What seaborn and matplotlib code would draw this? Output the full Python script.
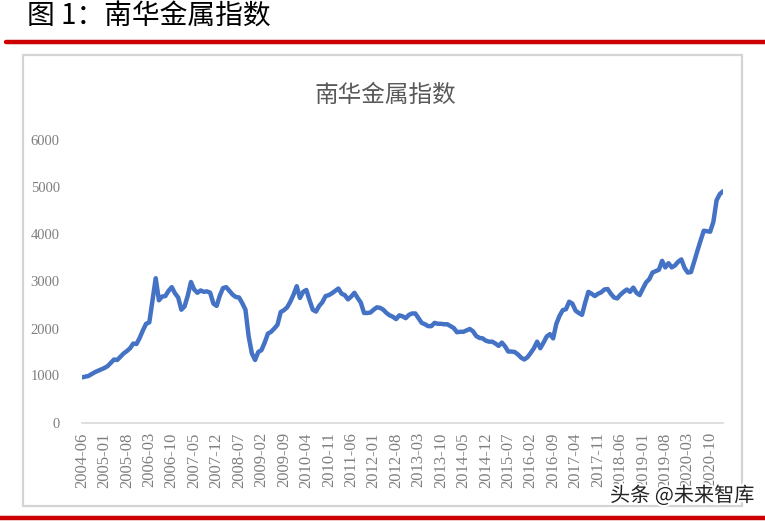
import matplotlib
matplotlib.use("Agg")
import matplotlib.pyplot as plt
import matplotlib.patheffects as pe
from matplotlib.lines import Line2D
from matplotlib.patches import Rectangle
import seaborn as sns
import pandas as pd

# ---- data -------------------------------------------------------------
start_month = "2004-06"
end_month = "2021-02"
index_values = [
    960, 975, 990, 1030, 1070, 1100, 1130, 1160, 1200, 1270,
    1340, 1330, 1400, 1470, 1520, 1580, 1680, 1670, 1800, 1960,
    2100, 2130, 2600, 3070, 2600, 2680, 2690, 2800, 2880, 2750,
    2660, 2400, 2470, 2700, 2990, 2830, 2760, 2810, 2780, 2790,
    2760, 2530, 2480, 2700, 2860, 2880, 2800, 2720, 2670, 2660,
    2540, 2400, 1830, 1470, 1330, 1500, 1540, 1700, 1890, 1930,
    2000, 2080, 2350, 2390, 2450, 2570, 2720, 2900, 2650, 2780,
    2820, 2600, 2400, 2360, 2480, 2560, 2690, 2710, 2750, 2800,
    2850, 2740, 2710, 2620, 2680, 2760, 2650, 2550, 2330, 2330,
    2340, 2400, 2450, 2440, 2400, 2330, 2280, 2250, 2200, 2280,
    2260, 2220, 2290, 2320, 2320, 2220, 2120, 2090, 2050, 2050,
    2120, 2100, 2100, 2090, 2090, 2050, 2010, 1920, 1930, 1930,
    1960, 1990, 1940, 1840, 1800, 1790, 1740, 1720, 1720, 1680,
    1630, 1700, 1620, 1510, 1510, 1500, 1450, 1380, 1340, 1390,
    1480, 1580, 1720, 1580, 1700, 1830, 1880, 1790, 2100, 2270,
    2390, 2410, 2570, 2530, 2380, 2330, 2290, 2550, 2780, 2740,
    2690, 2740, 2770, 2830, 2840, 2740, 2660, 2640, 2720, 2780,
    2830, 2780, 2870, 2760, 2710, 2850, 2980, 3050, 3190, 3220,
    3250, 3440, 3300, 3390, 3300, 3340, 3420, 3470, 3290, 3190,
    3200, 3420, 3650, 3870, 4080, 4070, 4060, 4270, 4730, 4860,
    4920,
]
y_ticks = [0, 1000, 2000, 3000, 4000, 5000, 6000]
tick_every = 7
header_text = "图 1：南华金属指数"
chart_title = "南华金属指数"
watermark = "头条 @未来智库"

months = pd.period_range(start_month, end_month, freq="M").strftime("%Y-%m").tolist()
df = pd.DataFrame({"idx": range(len(months)), "month": months, "value": index_values})

# ---- figure -------------------------------------------------------------
sns.set_theme(style="white")
plt.rcParams["font.family"] = ["Noto Sans CJK SC", "DejaVu Sans"]

W, H = 765, 521
fig = plt.figure(figsize=(W / 100, H / 100), dpi=100)
fig.patch.set_facecolor("white")

# header text and red rules
fig.text(27 / W, 1 - 17 / H, header_text, fontsize=20, fontweight="normal",
         color="black", ha="left", va="center")
fig.add_artist(Line2D([6 / W, 1], [1 - 42 / H, 1 - 42 / H], color="#CC0000",
                      linewidth=3.2, transform=fig.transFigure))
fig.add_artist(Line2D([0, 1], [1 - 518 / H, 1 - 518 / H], color="#CC0000",
                      linewidth=3.2, transform=fig.transFigure))
# chart frame
fig.add_artist(Rectangle((23 / W, 1 - 506 / H), (742 - 23) / W, (506 - 55) / H,
                         transform=fig.transFigure, fill=False,
                         edgecolor="#D4D4D4", linewidth=1.6))

ax = fig.add_axes([82 / W, 1 - 422.5 / H, (723 - 82) / W, (422.5 - 140.5) / H])
ax.set_facecolor("none")
sns.lineplot(data=df, x="idx", y="value", ax=ax, color="#4472C4", linewidth=3.2)

ax.set_xlim(0, len(months) - 1)
ax.set_ylim(0, 6000)
tick_pos = list(range(0, len(months), tick_every))
ax.set_xticks(tick_pos)
ax.set_xticklabels([months[i] for i in tick_pos], rotation=90,
                   family="Liberation Serif", fontsize=12, color="#7F7F7F")
ax.set_yticks(y_ticks)
ax.set_yticklabels([str(v) for v in y_ticks], family="Liberation Serif",
                   fontsize=10.5, color="#7F7F7F")
ax.set_xlabel("")
ax.set_ylabel("")
for side in ["top", "right", "left"]:
    ax.spines[side].set_visible(False)
ax.spines["bottom"].set_color("#D9D9D9")
ax.spines["bottom"].set_linewidth(1.2)
ax.tick_params(axis="x", direction="out", length=4, width=1, color="#D9D9D9", pad=3)
ax.tick_params(axis="y", length=0, pad=16)
ax.grid(False)

fig.text(385 / W, 1 - 95 / H, chart_title, fontsize=17, color="#595959",
         ha="center", va="center")

fig.text(610 / W, 1 - 496 / H, watermark, fontsize=14.5, color="#222222",
         ha="left", va="center",
         path_effects=[pe.withStroke(linewidth=3, foreground="white")])

fig.savefig("out.png", dpi=100, facecolor="white")
